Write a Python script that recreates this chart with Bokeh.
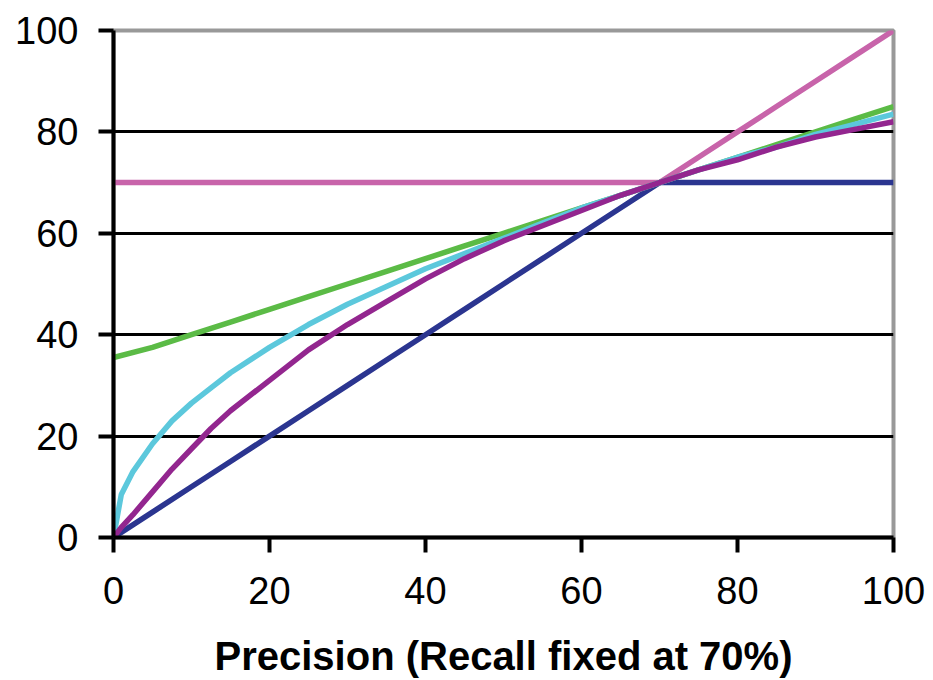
from bokeh.plotting import figure
from bokeh.models import Range1d, FixedTicker
from bokeh.embed import file_html
from bokeh.resources import INLINE

# Precision values (x axis)
x_main = [0, 5, 10, 15, 20, 25, 30, 35, 40, 45, 50, 55, 60, 65, 70, 75, 80, 85, 90, 95, 100]

# Series
maximum = [70, 70, 70, 70, 70, 70, 70, 70, 70, 70, 70, 70, 70, 70, 70, 75, 80, 85, 90, 95, 100]
minimum = [0, 5, 10, 15, 20, 25, 30, 35, 40, 45, 50, 55, 60, 65, 70, 70, 70, 70, 70, 70, 70]
arithmetic = [35.5, 37.5, 40, 42.5, 45, 47.5, 50, 52.5, 55, 57.5, 60, 62.5, 65, 67.5, 70, 72.5, 75, 77.5, 80, 82.5, 85]

x_curve = [0, 1, 2.5, 5, 7.5, 10, 12.5, 15, 20, 25, 30, 35, 40, 45, 50, 55, 60, 65, 70, 75, 80, 85, 90, 95, 100]
harmonic = [0, 2, 4.5, 9, 13.5, 17.5, 21.5, 25, 31, 37, 42, 46.5, 51, 55, 58.5, 61.5, 64.5, 67.5, 70, 72.5, 74.5, 77, 79, 80.5, 82]
geometric = [0, 8.5, 13, 18.5, 23, 26.5, 29.5, 32.5, 37.5, 42, 46, 49.5, 53, 56, 59, 62, 65, 67.5, 70, 72.5, 75, 77, 79.5, 81.5, 83.5]

ticks = [0, 20, 40, 60, 80, 100]
grid_ticks = [20, 40, 60, 80]
x_title = "Precision (Recall fixed at 70%)"

p = figure(width=933, height=680, output_backend="svg", toolbar_location=None,
           x_range=Range1d(0, 100), y_range=Range1d(0, 100),
           min_border_left=113, min_border_right=40, min_border_top=30, min_border_bottom=143)

p.background_fill_color = "white"
p.border_fill_color = "white"
p.outline_line_color = "#999999"
p.outline_line_width = 4

p.xgrid.visible = False
p.ygrid.ticker = FixedTicker(ticks=grid_ticks)
p.ygrid.grid_line_color = "black"
p.ygrid.grid_line_width = 3

for ax in (p.xaxis[0], p.yaxis[0]):
    ax.ticker = FixedTicker(ticks=ticks)
    ax.axis_line_color = "black"
    ax.axis_line_width = 4
    ax.major_tick_line_color = "black"
    ax.major_tick_line_width = 4
    ax.major_tick_in = 0
    ax.major_tick_out = 15
    ax.minor_tick_line_color = None
    ax.major_label_text_font = "Liberation Sans"
    ax.major_label_text_font_size = "38px"
    ax.major_label_text_color = "black"

p.yaxis.major_label_standoff = 20
p.xaxis.major_label_standoff = 24
p.xaxis.axis_label = x_title
p.xaxis.axis_label_text_font = "Liberation Sans"
p.xaxis.axis_label_text_font_style = "bold"
p.xaxis.axis_label_text_font_size = "40px"
p.xaxis.axis_label_text_color = "black"
p.xaxis.axis_label_standoff = 27

lw = 5.5
p.line(x_main, maximum, line_color="#C864AA", line_width=lw)
p.line(x_main, minimum, line_color="#2B3590", line_width=lw)
p.line(x_main, arithmetic, line_color="#5BBB46", line_width=lw)
p.line(x_curve, geometric, line_color="#5CC8DC", line_width=lw)
p.line(x_curve, harmonic, line_color="#93268F", line_width=lw)

open("out.html", "w").write(file_html(p, INLINE))
